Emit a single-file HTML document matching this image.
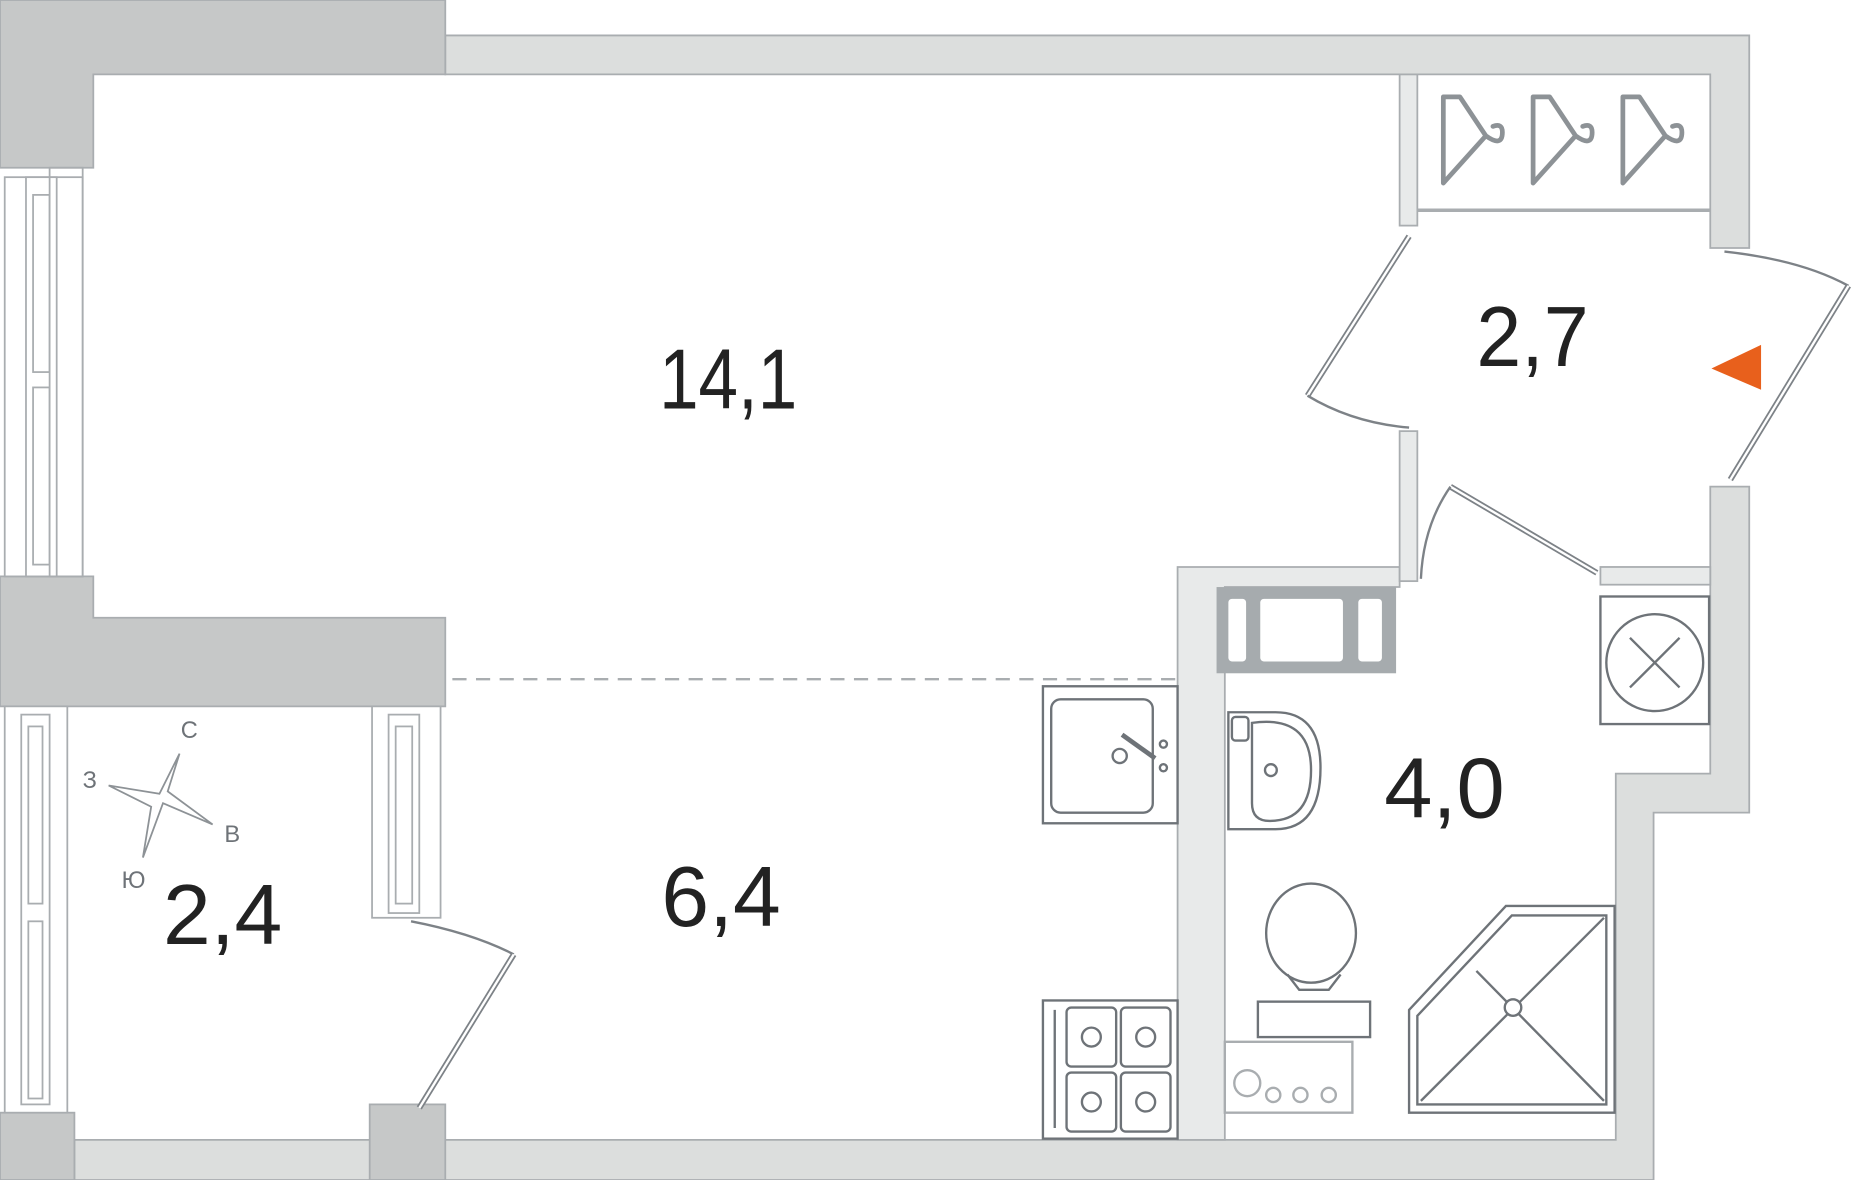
<!DOCTYPE html>
<html><head><meta charset="utf-8"><style>
html,body{margin:0;padding:0;background:#fff;}
svg{display:block;}
text{font-family:"Liberation Sans",sans-serif;fill:#222;}
</style></head><body>
<svg width="1852" height="1180" viewBox="0 0 1568 999" preserveAspectRatio="none" xmlns="http://www.w3.org/2000/svg">
<g fill="#dcdedd" stroke="#a9adb0" stroke-width="1.5">
<path d="M377 30 H1481 V210 H1448 V63 H377 Z"/>
<path d="M1448 412 H1481 V688 H1400 V999 H63 V965 H1368 V655 H1448 Z"/>
<path d="M997 480 H1185 V497 H1037 V965 H997 Z" fill="#e8eaea"/>
<rect x="1185" y="63" width="15" height="128" fill="#e8eaea"/>
<rect x="1185" y="365" width="15" height="127" fill="#e8eaea"/>
<rect x="1355" y="480" width="93" height="15" fill="#e8eaea"/>
</g>
<g fill="#c6c8c8" stroke="#a9adb0" stroke-width="1.5">
<path d="M0 0 H377 V63 H79 V142 H0 Z"/>
<path d="M0 488 H79 V523 H377 V598 H0 Z"/>
<rect x="0" y="942" width="63" height="57"/>
<rect x="313" y="935" width="64" height="64"/>
</g>
<g fill="#fff" stroke="#a9adb0" stroke-width="1.5">
<rect x="4" y="150" width="66" height="338"/>
<rect x="22" y="150" width="26" height="338"/>
<rect x="28" y="165" width="14" height="150"/>
<rect x="28" y="328" width="14" height="150"/>
<rect x="42" y="142" width="28" height="346" fill="none"/>
<rect x="4" y="598" width="53" height="344"/>
<rect x="18" y="605" width="24" height="330"/>
<rect x="24" y="615" width="12" height="150"/>
<rect x="24" y="780" width="12" height="150"/>
<rect x="315" y="598" width="58" height="179"/>
<rect x="329" y="605" width="26" height="168"/>
<rect x="335" y="615" width="14" height="150"/>
</g>
<line x1="383" y1="575" x2="995" y2="575" stroke="#a9adb0" stroke-width="2" stroke-dasharray="12 8"/>
<g fill="none" stroke="#7d8287" stroke-width="2">
<path d="M348 780 Q400 790 435 808"/><line x1="435" y1="808" x2="355" y2="938" stroke-width="5"/>
<line x1="435" y1="808" x2="355" y2="938" stroke="#fff" stroke-width="2"/>
<path d="M1460 213 Q1525 220 1565 242"/><line x1="1565" y1="242" x2="1465" y2="406" stroke-width="5"/>
<line x1="1565" y1="242" x2="1465" y2="406" stroke="#fff" stroke-width="2"/>
<line x1="1193" y1="200" x2="1107" y2="335" stroke-width="5"/>
<line x1="1193" y1="200" x2="1107" y2="335" stroke="#fff" stroke-width="2"/>
<path d="M1107 335 Q1145 358 1193 362"/>
<line x1="1228" y1="412" x2="1352" y2="485" stroke-width="5"/>
<line x1="1228" y1="412" x2="1352" y2="485" stroke="#fff" stroke-width="2"/>
<path d="M1228 412 Q1205 445 1203 490"/>
</g>
<line x1="1200" y1="178" x2="1448" y2="178" stroke="#a9adb0" stroke-width="3"/>
<g fill="none" stroke="#8d9296" stroke-width="4" stroke-linejoin="round" stroke-linecap="round">
<path d="M1222 82 V155 L1258 115 L1236 82 Z M1258 115 Q1272 125 1272 112 Q1272 104 1264 107"/>
<path d="M1298 82 V155 L1334 115 L1312 82 Z M1334 115 Q1348 125 1348 112 Q1348 104 1340 107"/>
<path d="M1374 82 V155 L1410 115 L1388 82 Z M1410 115 Q1424 125 1424 112 Q1424 104 1416 107"/>
</g>
<rect x="1030" y="497" width="152" height="73" fill="#a6abae"/>
<g fill="#fff"><rect x="1040" y="507" width="15" height="53" rx="3"/><rect x="1067" y="507" width="70" height="53" rx="3"/><rect x="1150" y="507" width="20" height="53" rx="3"/></g>
<g fill="none" stroke="#6e7378" stroke-width="2">
<rect x="1355" y="505" width="92" height="108" fill="#fff"/>
<circle cx="1401" cy="561" r="41"/><path d="M1380 540 L1422 582 M1422 540 L1380 582"/>
<path d="M1040 603 H1080 Q1118 603 1118 650 Q1118 702 1080 702 H1040 Z"/>
<path d="M1060 612 Q1110 605 1110 652 Q1110 695 1075 695 Q1060 695 1060 680 Z"/>
<rect x="1043" y="607" width="14" height="20" rx="3"/>
<circle cx="1076" cy="652" r="5"/>
<ellipse cx="1110" cy="790" rx="38" ry="42"/>
<path d="M1090 825 L1100 838 H1125 L1135 825"/>
<rect x="1065" y="848" width="95" height="30"/>
<path d="M1193 855 L1275 767 H1367 V942 H1193 Z"/>
<path d="M1200 860 L1280 775 H1360 V935 H1200 Z"/>
<path d="M1203 932 L1358 777 M1250 822 L1358 932"/>
<circle cx="1281" cy="853" r="7" fill="#fff"/>
</g>
<g fill="none" stroke="#a9adb0" stroke-width="2">
<rect x="1037" y="882" width="108" height="60"/>
<circle cx="1056" cy="917" r="11"/><circle cx="1078" cy="927" r="6"/><circle cx="1101" cy="927" r="6"/><circle cx="1125" cy="927" r="6"/>
</g>
<g fill="none" stroke="#6e7378" stroke-width="2">
<rect x="883" y="581" width="114" height="116" fill="#fff"/>
<rect x="890" y="592" width="86" height="96" rx="8"/>
<line x1="950" y1="622" x2="978" y2="642" stroke-width="4"/>
<circle cx="948" cy="640" r="6"/><circle cx="985" cy="630" r="3"/><circle cx="985" cy="650" r="3"/>
<rect x="883" y="847" width="114" height="117" fill="#fff"/>
<line x1="893" y1="855" x2="893" y2="955"/>
<rect x="903" y="853" width="42" height="50" rx="4"/><rect x="949" y="853" width="42" height="50" rx="4"/>
<rect x="903" y="908" width="42" height="50" rx="4"/><rect x="949" y="908" width="42" height="50" rx="4"/>
<circle cx="924" cy="878" r="8"/><circle cx="970" cy="878" r="8"/><circle cx="924" cy="933" r="8"/><circle cx="970" cy="933" r="8"/>
</g>
<g fill="none" stroke="#8d9296" stroke-width="1.5">
<path d="M152 638 L142 670 L180 698 L138 680 L121 726 L128 683 L92 665 L135 672 Z"/>
</g>
<g font-size="20">
<text x="153" y="625" style="fill:#6e7378">С</text>
<text x="70" y="667" style="fill:#6e7378">З</text>
<text x="190" y="713" style="fill:#6e7378">В</text>
<text x="103" y="752" style="fill:#6e7378">Ю</text>
</g>
<polygon points="1449,312 1491,292 1491,330" fill="#e8601c"/>
<g font-size="72">
<text x="558" y="346" textLength="117" lengthAdjust="spacingAndGlyphs">14,1</text>
<text x="1250" y="310" textLength="95" lengthAdjust="spacingAndGlyphs">2,7</text>
<text x="1172" y="692" textLength="102" lengthAdjust="spacingAndGlyphs">4,0</text>
<text x="560" y="784" textLength="101" lengthAdjust="spacingAndGlyphs">6,4</text>
<text x="138" y="799" textLength="101" lengthAdjust="spacingAndGlyphs">2,4</text>
</g>
</svg>
</body></html>
